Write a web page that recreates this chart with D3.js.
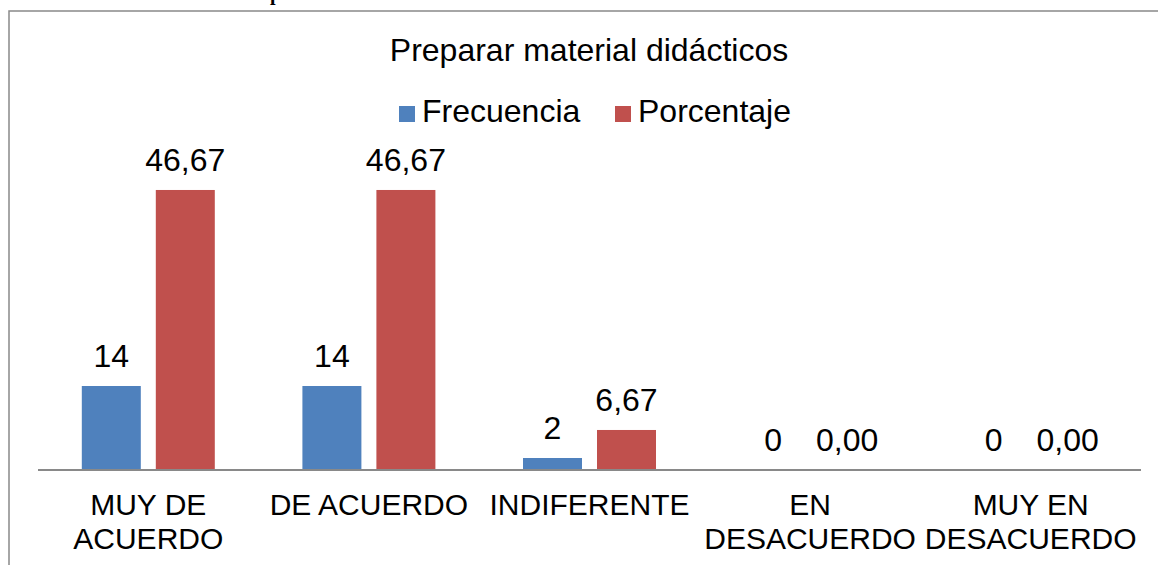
<!DOCTYPE html>
<html lang="es">
<head>
<meta charset="UTF-8">
<title>Preparar material didácticos</title>
<script src="https://d3js.org/d3.v7.min.js"></script>
<style>
  body { margin: 0; background: #fff; }
  svg text { font-family: Arial, "Liberation Sans", sans-serif; fill: #000; }
</style>
</head>
<body>
<svg width="1158" height="565"></svg>
<script>
const categories = ["MUY DE ACUERDO", "DE ACUERDO", "INDIFERENTE", "EN DESACUERDO", "MUY EN DESACUERDO"];
const tickLines = [["MUY DE", "ACUERDO"], ["DE ACUERDO"], ["INDIFERENTE"], ["EN", "DESACUERDO"], ["MUY EN", "DESACUERDO"]];
const seriesNames = ["Frecuencia", "Porcentaje"];
const frecuencia = [14, 14, 2, 0, 0];
const porcentaje = [46.67, 46.67, 6.67, 0, 0];
const colors = ["#4F81BD", "#C0504D"];
const title = "Preparar material didácticos";

const svg = d3.select("svg");
const bigFont = 32;
const tickFont = 30;

// outer chart frame (runs off the right and bottom of the picture)
svg.append("rect")
    .attr("x", 9).attr("y", 11)
    .attr("width", 1170).attr("height", 580)
    .attr("fill", "none")
    .attr("stroke", "#898989")
    .attr("stroke-width", 1.5);

// bit of the caption above the chart, mostly cut off
svg.append("text")
    .attr("x", 270).attr("y", 0)
    .style("font-family", "'Liberation Serif', serif")
    .style("font-weight", "bold")
    .style("font-size", "20px")
    .text("p");

const x = d3.scaleBand()
    .domain(categories)
    .range([38, 1141]);

const xs = d3.scaleBand()
    .domain(seriesNames)
    .range([0, x.bandwidth()])
    .paddingInner(0.2027)
    .paddingOuter(0.592);

const y = d3.scaleLinear()
    .domain([0, 50])
    .range([470, 170]);

const rows = categories.map((c, i) => ({ cat: c, values: [frecuencia[i], porcentaje[i]] }));

const groups = svg.selectAll(".grp")
    .data(rows)
    .enter().append("g")
    .attr("transform", d => `translate(${x(d.cat)},0)`);

groups.selectAll("rect")
    .data(d => d.values.map((v, j) => ({ s: seriesNames[j], v: v, j: j })))
    .enter().append("rect")
    .attr("x", d => xs(d.s))
    .attr("y", d => y(d.v))
    .attr("width", xs.bandwidth())
    .attr("height", d => y(0) - y(d.v))
    .attr("fill", d => colors[d.j]);

groups.selectAll(".lbl")
    .data(d => d.values.map((v, j) => ({ s: seriesNames[j], v: v, j: j })))
    .enter().append("text")
    .attr("x", d => xs(d.s) + xs.bandwidth() / 2)
    .attr("y", d => y(d.v) - 19)
    .attr("text-anchor", "middle")
    .style("font-size", bigFont + "px")
    .text(d => d.j === 0 ? d.v : d.v.toFixed(2).replace(".", ","));

// category axis line
svg.append("line")
    .attr("x1", x.range()[0]).attr("x2", x.range()[1])
    .attr("y1", y(0)).attr("y2", y(0))
    .attr("stroke", "#898989")
    .attr("stroke-width", 2);

// category labels
categories.forEach((c, i) => {
    const t = svg.append("text")
        .attr("text-anchor", "middle")
        .style("font-size", tickFont + "px");
    tickLines[i].forEach((line, k) => {
        t.append("tspan")
            .attr("x", x(c) + x.bandwidth() / 2)
            .attr("y", 515 + k * 33.5)
            .text(line);
    });
});

// title
svg.append("text")
    .attr("x", 589).attr("y", 61)
    .attr("text-anchor", "middle")
    .style("font-size", bigFont + "px")
    .text(title);

// legend
const legendX = [399, 615];
seriesNames.forEach((s, i) => {
    svg.append("rect")
        .attr("x", legendX[i]).attr("y", 106)
        .attr("width", 16).attr("height", 16)
        .attr("fill", colors[i]);
    svg.append("text")
        .attr("x", legendX[i] + 23).attr("y", 122)
        .style("font-size", bigFont + "px")
        .text(s);
});
</script>
</body>
</html>
